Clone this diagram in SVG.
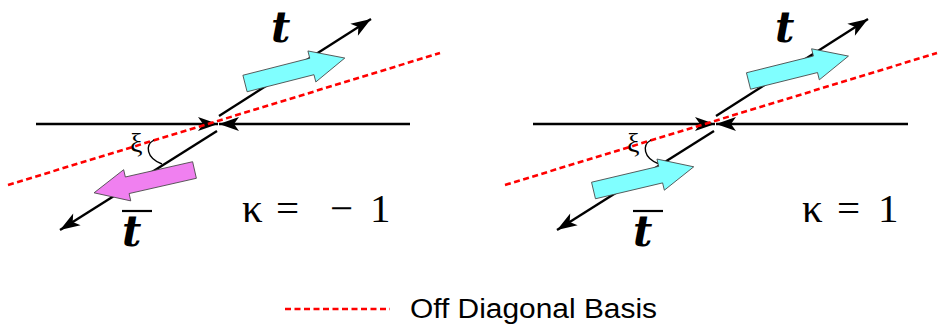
<svg xmlns="http://www.w3.org/2000/svg" width="940" height="324" viewBox="0 0 940 324">
<style>
.ln{stroke:#000;stroke-width:2.4;fill:none}
.dash{stroke:#ff0000;stroke-width:2.6;stroke-dasharray:6 3.5;fill:none}
.arc{stroke:#000;stroke-width:1.4;fill:none}
.blk{stroke:#444;stroke-width:0.8;stroke-linejoin:miter}
.tt{font-family:"DejaVu Serif","Liberation Serif",serif;font-weight:bold;font-style:italic;font-size:42px;fill:#000}
.kap{font-family:"Liberation Serif",serif;font-size:41px;fill:#000}
.xi{font-family:"Liberation Serif",serif;font-size:28px;fill:#000}
.leg{font-family:"Liberation Sans",Arial,sans-serif;font-size:27px;fill:#000}
</style>
<defs>
<marker id="ah" markerUnits="userSpaceOnUse" viewBox="-21 -8 22 16" markerWidth="22" markerHeight="16" refX="0" refY="0" orient="auto">
<path d="M0,0 L-20,-7 L-15,0 L-20,7 Z" fill="#000"/>
</marker>
<path id="blk" d="M0,-8.5 L69,-8.5 L69,-16 L103,0 L69,16 L69,8.5 L0,8.5 Z"/>
</defs>
<g id="connectors">
<line class="ln" x1="36" y1="124" x2="218" y2="124" marker-end="url(#ah)"/>
<line class="ln" x1="410" y1="124" x2="219" y2="124" marker-end="url(#ah)"/>
<line class="ln" x1="219" y1="116" x2="371" y2="19" marker-end="url(#ah)"/>
<line class="ln" x1="217" y1="131" x2="60" y2="230" marker-end="url(#ah)"/>
<line class="dash" x1="8" y1="185" x2="440" y2="53"/>
<path class="arc" d="M154,140 C145,145 146,158 162,164"/>
<line class="ln" x1="533" y1="124" x2="715" y2="124" marker-end="url(#ah)"/>
<line class="ln" x1="908" y1="124" x2="716" y2="124" marker-end="url(#ah)"/>
<line class="ln" x1="716" y1="116" x2="868" y2="19" marker-end="url(#ah)"/>
<line class="ln" x1="714" y1="131" x2="557" y2="230" marker-end="url(#ah)"/>
<line class="dash" x1="505" y1="185" x2="937" y2="53"/>
<path class="arc" d="M651,140 C642,145 643,158 659,164"/>
</g>
<g id="spin-t-left"><use href="#blk" class="blk" fill="#80ffff" transform="translate(245,83.5) rotate(-14.3)"/></g>
<g id="spin-tbar-left"><use href="#blk" class="blk" fill="#f080f0" transform="translate(194.5,170) rotate(167.2)"/></g>
<g id="spin-t-right"><use href="#blk" class="blk" fill="#80ffff" transform="translate(748.5,81) rotate(-14)"/></g>
<g id="spin-tbar-right"><use href="#blk" class="blk" fill="#80ffff" transform="translate(593.5,190.5) rotate(-13.3)"/></g>
<g id="labels-left">
<text class="tt" x="271" y="42">t</text>
<line x1="122" y1="211" x2="152" y2="211" stroke="#000" stroke-width="2.2"/>
<text class="tt" x="122" y="246">t</text>
<text class="xi" x="130" y="152">ξ</text>
<text class="kap" x="242" y="222">κ<tspan x="276">=</tspan><tspan x="330">−</tspan><tspan x="370">1</tspan></text>
</g>
<g id="labels-right">
<text class="tt" x="775" y="42">t</text>
<line x1="633" y1="211" x2="663" y2="211" stroke="#000" stroke-width="2.2"/>
<text class="tt" x="633" y="246">t</text>
<text class="xi" x="627" y="152">ξ</text>
<text class="kap" x="802" y="222">κ<tspan x="837">=</tspan><tspan x="878">1</tspan></text>
</g>
<g id="legend">
<line class="dash" x1="285" y1="309" x2="390" y2="309"/>
<text class="leg" x="410" y="318" textLength="247" lengthAdjust="spacingAndGlyphs">Off Diagonal Basis</text>
</g>
</svg>
